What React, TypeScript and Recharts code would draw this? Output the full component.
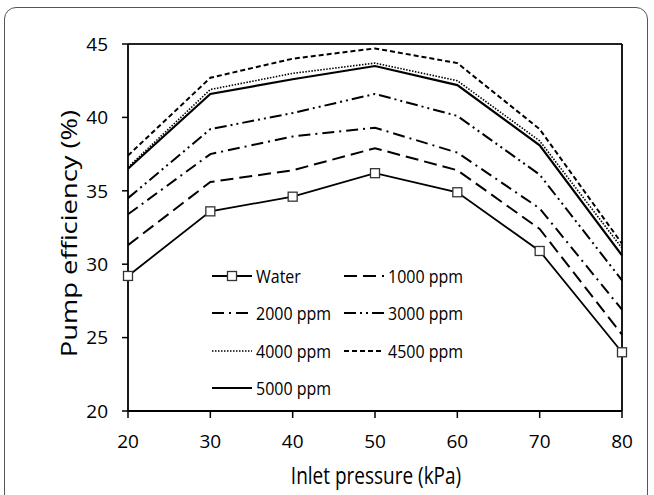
import React from 'react';
import { LineChart, Line, XAxis, YAxis, ReferenceLine, Legend, Label } from 'recharts';

const pressures = [20, 30, 40, 50, 60, 70, 80];
const water = [29.2, 33.6, 34.6, 36.2, 34.9, 30.9, 24.0];
const ppm1000 = [31.3, 35.6, 36.4, 37.9, 36.4, 32.4, 25.2];
const ppm2000 = [33.4, 37.5, 38.7, 39.3, 37.6, 33.8, 26.9];
const ppm3000 = [34.5, 39.2, 40.3, 41.6, 40.1, 36.1, 28.9];
const ppm4000 = [36.6, 41.9, 43.0, 43.7, 42.5, 38.4, 31.1];
const ppm4500 = [37.4, 42.7, 44.0, 44.7, 43.7, 39.2, 31.4];
const ppm5000 = [36.5, 41.6, 42.6, 43.5, 42.2, 38.1, 30.6];

const xTicks = [20, 30, 40, 50, 60, 70, 80];
const yTicks = [20, 25, 30, 35, 40, 45];

const xTitle = 'Inlet pressure (kPa)';
const yTitle = 'Pump efficiency (%)';

const data = pressures.map((p, i) => ({
  x: p,
  water: water[i],
  p1000: ppm1000[i],
  p2000: ppm2000[i],
  p3000: ppm3000[i],
  p4000: ppm4000[i],
  p4500: ppm4500[i],
  p5000: ppm5000[i],
}));

const FONT = '"Open Sans", "Noto Sans", sans-serif';

type SeriesDef = { key: string; name: string; dash?: string; width: number; marker?: boolean };
const series: SeriesDef[] = [
  { key: 'water', name: 'Water', width: 1.8, marker: true },
  { key: 'p1000', name: '1000 ppm', dash: '13 6', width: 2 },
  { key: 'p2000', name: '2000 ppm', dash: '12 5 2 5', width: 2 },
  { key: 'p3000', name: '3000 ppm', dash: '12 4 2 4 2 4', width: 2 },
  { key: 'p4000', name: '4000 ppm', dash: '1.5 1.5', width: 1.6 },
  { key: 'p4500', name: '4500 ppm', dash: '5 3', width: 2 },
  { key: 'p5000', name: '5000 ppm', width: 2.2 },
];

const SquareDot = (props: any) => {
  const { cx, cy } = props;
  if (cx == null || cy == null) return null;
  return <rect x={cx - 4.5} y={cy - 4.5} width={9} height={9} fill="#fff" stroke="#333" strokeWidth={1.3} />;
};

const legendPos = [
  { x: 212, y: 276 },
  { x: 344, y: 276 },
  { x: 212, y: 313 },
  { x: 344, y: 313 },
  { x: 212, y: 351 },
  { x: 344, y: 351 },
  { x: 212, y: 388 },
];

const CustomLegend = () => (
  <svg width={654} height={495} style={{ position: 'absolute', left: 0, top: 0, pointerEvents: 'none' }}>
    {series.map((s, i) => {
      const p = legendPos[i];
      return (
        <g key={s.key}>
          <line x1={p.x} x2={p.x + 40} y1={p.y} y2={p.y} stroke="#000" strokeWidth={s.width} strokeDasharray={s.dash} />
          {s.marker && <rect x={p.x + 15.5} y={p.y - 4.5} width={9} height={9} fill="#fff" stroke="#333" strokeWidth={1.3} />}
          <text
            transform={`translate(${p.x + 44}, ${p.y}) scale(1, 1.12)`}
            dominantBaseline="central"
            fontSize={16}
            fontFamily={FONT}
            fill="#000"
          >
            {s.name}
          </text>
        </g>
      );
    })}
  </svg>
);

const YTitle = (props: any) => {
  const vb = props.viewBox || { x: 0, y: 0, width: 0, height: 0 };
  const cy = vb.y + vb.height / 2 + 6;
  return (
    <text
      transform={`translate(69, ${cy}) rotate(-90) scale(1.3, 1)`}
      textAnchor="middle"
      dominantBaseline="central"
      fontSize={21}
      fontFamily={FONT}
      fill="#000"
    >
      {yTitle}
    </text>
  );
};

const XTitle = (props: any) => {
  const vb = props.viewBox || { x: 0, y: 0, width: 0, height: 0 };
  const cx = vb.x + vb.width / 2 + 1;
  return (
    <text
      transform={`translate(${cx}, 475) scale(1, 1.2)`}
      textAnchor="middle"
      dominantBaseline="central"
      fontSize={19}
      fontFamily={FONT}
      fill="#000"
    >
      {xTitle}
    </text>
  );
};

export default function App() {
  return (
    <div style={{ position: 'fixed', left: 0, top: 0, width: 654, height: 495, background: '#fff', overflow: 'hidden' }}>
      <div
        style={{
          position: 'absolute',
          left: 4,
          top: 7,
          width: 644,
          height: 520,
          border: '1.5px solid #555',
          borderRadius: 12,
          boxSizing: 'border-box',
        }}
      />
      <div style={{ position: 'absolute', left: 0, top: 0 }}>
        <LineChart width={654} height={495} data={data} margin={{ top: 44, right: 32, bottom: 0, left: 0 }}>
          <XAxis
            dataKey="x"
            type="number"
            domain={[20, 80]}
            ticks={xTicks}
            height={84}
            stroke="#000"
            strokeWidth={1.8}
            tickSize={7}
            tickMargin={17}
            tick={{ fontSize: 19, fill: '#000', fontFamily: FONT }}
            tickLine={{ stroke: '#000', strokeWidth: 1.5 }}
          >
            <Label content={<XTitle />} />
          </XAxis>
          <YAxis
            type="number"
            domain={[20, 45]}
            ticks={yTicks}
            width={128}
            stroke="#000"
            strokeWidth={1.8}
            tickSize={6}
            tickMargin={14}
            tick={{ fontSize: 19, fill: '#000', fontFamily: FONT }}
            tickLine={{ stroke: '#000', strokeWidth: 1.5 }}
            allowDataOverflow
          >
            <Label content={<YTitle />} />
          </YAxis>
          <ReferenceLine y={45} stroke="#222" strokeWidth={1.8} />
          <ReferenceLine x={80} stroke="#000" strokeWidth={1.8} />
          {series.map((s) => (
            <Line
              key={s.key}
              dataKey={s.key}
              name={s.name}
              type="linear"
              stroke="#000"
              strokeWidth={s.width}
              strokeDasharray={s.dash}
              dot={s.marker ? <SquareDot /> : false}
              activeDot={false}
              isAnimationActive={false}
            />
          ))}
          <Legend
            layout="vertical"
            align="center"
            verticalAlign="middle"
            content={() => <CustomLegend />}
            wrapperStyle={{ position: 'absolute', left: 0, top: 0, width: 654, height: 495 }}
          />
        </LineChart>
      </div>
    </div>
  );
}
